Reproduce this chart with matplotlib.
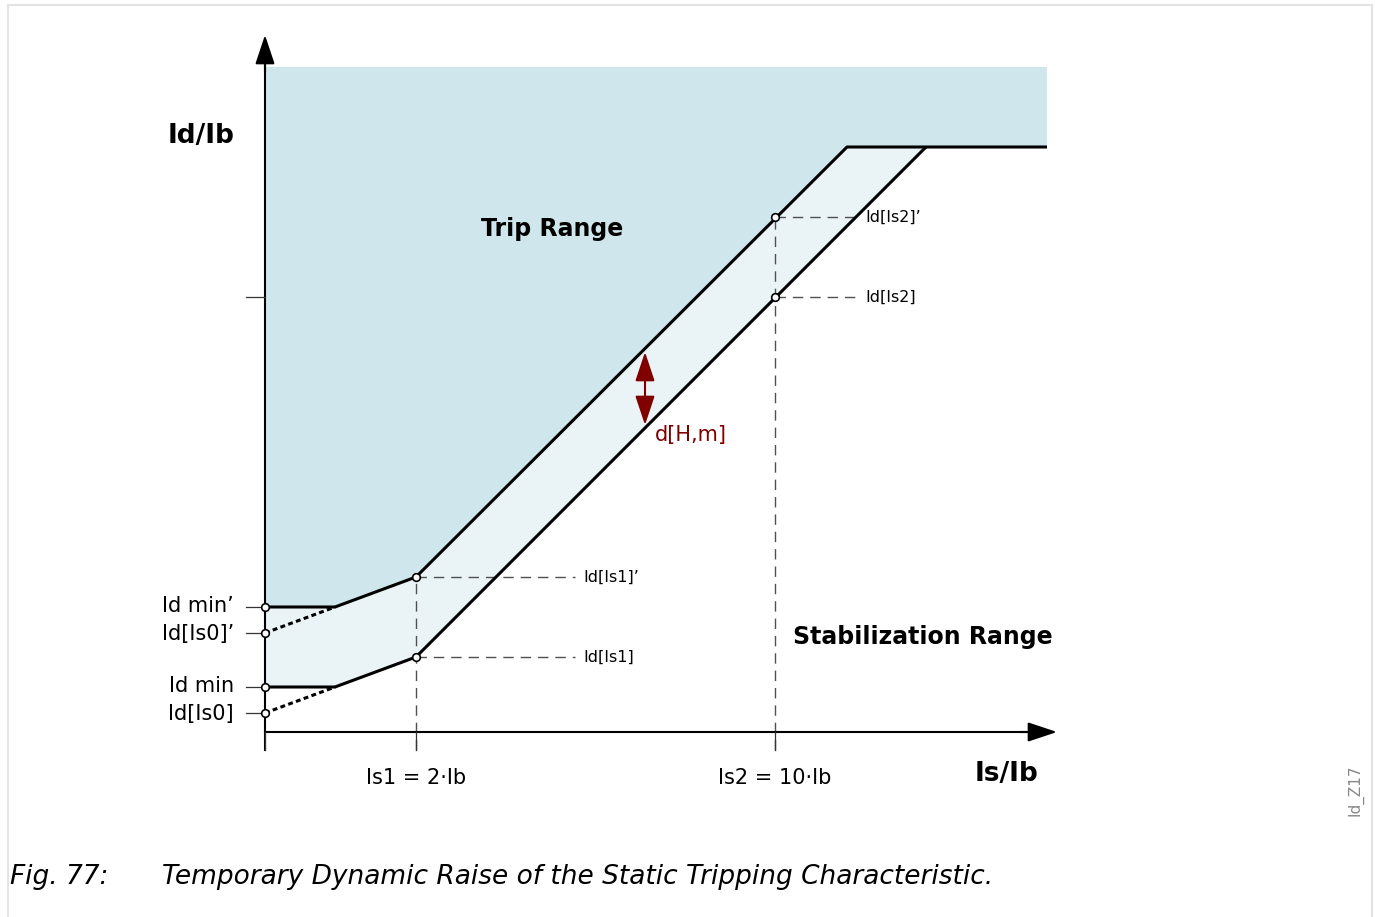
import matplotlib
matplotlib.use('Agg')
import matplotlib.pyplot as plt
from matplotlib.patches import Polygon, Rectangle

# chart units: origin at the crossing of the axes, 1 unit ~ 1 px
# upper (raised) characteristic Id'
upper_x = [0, 70, 151, 582, 782]
upper_y = [125, 125, 155, 585, 585]
# static characteristic Id
lower_x = [0, 70, 151, 661]
lower_y = [45, 45, 75, 585]
# dotted extensions down to Id[Is0]' and Id[Is0]
dot_up_x = [0, 70]
dot_up_y = [99, 125]
dot_lo_x = [0, 70]
dot_lo_y = [19, 45]
trip_top = 665

# marked points
pt_x = [0, 0, 0, 0, 151, 151, 510, 510]
pt_y = [125, 99, 45, 19, 155, 75, 515, 435]

# y tick marks and labels
ytick_pos = [435, 125, 99, 45, 19]
ylab_pos = [126, 98, 46, 18]
ylab_txt = ['Id min\u2019', 'Id[Is0]\u2019', 'Id min', 'Id[Is0]']

# x ticks
xtick_pos = [0, 151, 510]
xlab_pos = [151, 510]
xlab_txt = ['Is1 = 2\u00b7Ib', 'Is2 = 10\u00b7Ib']

# dashed helper lines (x0, x1, y) and labels
hdash = [(151, 310, 155, 'Id[Is1]\u2019'), (151, 310, 75, 'Id[Is1]'),
         (510, 592, 515, 'Id[Is2]\u2019'), (510, 592, 435, 'Id[Is2]')]
vdash = [(151, 155), (510, 515)]

dhm_x = 380
dhm_y = [380, 307]

TRIP = '#cfe7ec'
BAND = '#eaf4f7'
RED = '#800000'


def main():
    fig = plt.figure(figsize=(13.75, 9.17), dpi=100)
    ax = fig.add_axes([0, 0, 1, 1])
    ax.set_xlim(-265, 1110)
    ax.set_ylim(-185, 732)
    ax.axis('off')

    # frame
    ax.add_patch(Rectangle((-257, -200), 1364, 927, fill=False, ec='#e3e3e3', lw=1.5))

    # trip range
    trip = [(0, trip_top), (782, trip_top), (782, 585)] + \
           list(zip(upper_x[::-1], upper_y[::-1]))[1:]
    ax.add_patch(Polygon(trip, closed=True, fc=TRIP, ec='none', zorder=1))
    # band between characteristics
    band = list(zip(upper_x[:4], upper_y[:4])) + [(661, 585)] + \
           list(zip(lower_x[::-1], lower_y[::-1]))[1:]
    ax.add_patch(Polygon(band, closed=True, fc=BAND, ec='none', zorder=1))

    # axes with arrows
    ax.plot([0, 0], [-18, 680], color='k', lw=1.5, zorder=3)
    ax.plot([0, 775], [0, 0], color='k', lw=1.5, zorder=3)
    ax.annotate('', xy=(0, 697), xytext=(0, 660),
                arrowprops=dict(arrowstyle='-|>,head_length=0.9,head_width=0.3',
                                mutation_scale=20, color='k', lw=1.5, shrinkA=0, shrinkB=0))
    ax.annotate('', xy=(792, 0), xytext=(755, 0),
                arrowprops=dict(arrowstyle='-|>,head_length=0.9,head_width=0.3',
                                mutation_scale=20, color='k', lw=1.5, shrinkA=0, shrinkB=0))

    for y in ytick_pos:
        ax.plot([-19, 0], [y, y], color='#333333', lw=0.9, zorder=3)
    for x in xtick_pos:
        ax.plot([x, x], [-18, 0], color='#333333', lw=0.9, zorder=3)

    # dashed lines
    for x0, x1, y, t in hdash:
        ax.plot([x0, x1], [y, y], color='#505050', lw=1, ls=(0, (7.5, 5)), zorder=2)
        ax.text(x1 + 8, y, t, fontsize=11.5, ha='left', va='center')
    for x, y in vdash:
        ax.plot([x, x], [-18, y], color='#505050', lw=1, ls=(0, (7.5, 5)), zorder=2)

    # characteristics
    ax.plot(upper_x, upper_y, color='k', lw=2.2, zorder=4, solid_capstyle='butt')
    ax.plot(lower_x, lower_y, color='k', lw=2.2, zorder=4, solid_capstyle='butt')
    ax.plot(dot_up_x, dot_up_y, color='k', lw=2.2, ls=(0, (1.6, 1.1)), zorder=4)
    ax.plot(dot_lo_x, dot_lo_y, color='k', lw=2.2, ls=(0, (1.6, 1.1)), zorder=4)
    ax.plot(pt_x, pt_y, 'o', ms=5.5, mfc='white', mec='k', mew=1.2, ls='none', zorder=5)

    # d[H,m]
    ax.annotate('', xy=(dhm_x, dhm_y[0]), xytext=(dhm_x, dhm_y[1]),
                arrowprops=dict(arrowstyle='<|-|>,head_length=0.9,head_width=0.3',
                                mutation_scale=20, color=RED, lw=1.5, shrinkA=0, shrinkB=0))
    ax.text(390, 297, 'd[H,m]', color=RED, fontsize=15, ha='left', va='center')

    # labels
    for y, t in zip(ylab_pos, ylab_txt):
        ax.text(-31, y, t, fontsize=15, ha='right', va='center')
    for x, t in zip(xlab_pos, xlab_txt):
        ax.text(x, -46, t, fontsize=15, ha='center', va='center')
    ax.text(-31, 596, 'Id/Ib', fontsize=19, fontweight='bold', ha='right', va='center')
    ax.text(742, -42, 'Is/Ib', fontsize=19, fontweight='bold', ha='center', va='center')
    ax.text(287, 503, 'Trip Range', fontsize=17, fontweight='bold', ha='center', va='center')
    ax.text(658, 95, 'Stabilization Range', fontsize=17, fontweight='bold',
            ha='center', va='center')
    ax.text(1090, -58, 'Id_Z17', fontsize=11, color='#888888', rotation=90,
            ha='center', va='center')

    # caption
    ax.text(-255, -145, 'Fig. 77:', fontsize=19, style='italic', ha='left', va='center')
    ax.text(-103, -145, 'Temporary Dynamic Raise of the Static Tripping Characteristic.',
            fontsize=19, style='italic', ha='left', va='center')

    fig.savefig('out.png', dpi=100)


if __name__ == "__main__":
    main()
